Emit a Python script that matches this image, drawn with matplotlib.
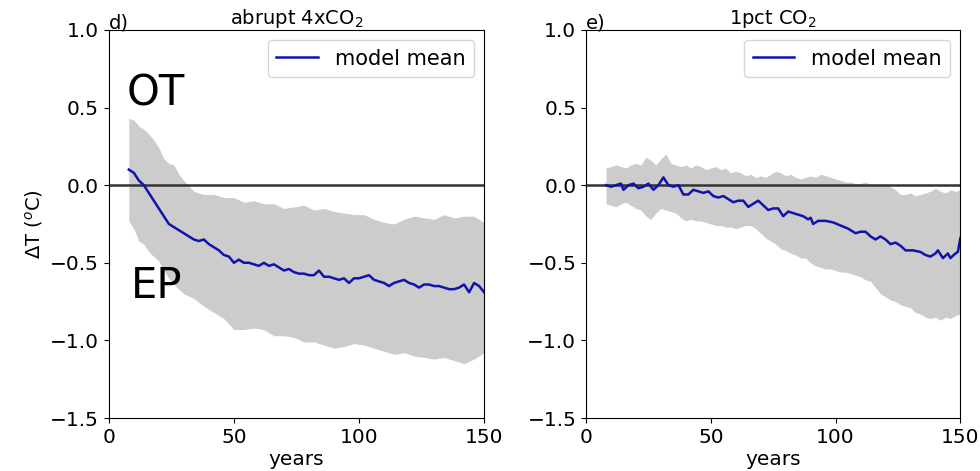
import numpy as np
import matplotlib
matplotlib.use("Agg")
import matplotlib.pyplot as plt

plt.rcParams['font.family'] = ['DejaVu Sans']
plt.rcParams['font.size'] = 14.5

# ---- panel d) abrupt 4xCO2 ----
yrs_d_mean = [8, 10, 12, 14, 16, 18, 20, 22, 24, 26, 28, 30, 32, 34, 36, 38, 40, 42, 44, 46,
              48, 50, 52, 54, 56, 58, 60, 62, 64, 66, 68, 70, 72, 74, 76, 78, 80, 82, 84, 86,
              88, 90, 92, 94, 96, 98, 100, 102, 104, 106, 108, 110, 112, 114, 116, 118, 120,
              122, 124, 126, 128, 130, 132, 134, 136, 138, 140, 142, 144, 146, 148, 150]
mean_d = [0.10, 0.08, 0.03, 0.00, -0.05, -0.10, -0.15, -0.20, -0.25, -0.27, -0.29, -0.31,
          -0.33, -0.35, -0.36, -0.35, -0.38, -0.40, -0.42, -0.45, -0.46, -0.50, -0.48, -0.50,
          -0.50, -0.51, -0.52, -0.50, -0.52, -0.51, -0.53, -0.55, -0.54, -0.56, -0.57, -0.57,
          -0.58, -0.58, -0.55, -0.59, -0.59, -0.60, -0.61, -0.60, -0.63, -0.60, -0.60, -0.59,
          -0.58, -0.61, -0.62, -0.63, -0.65, -0.63, -0.62, -0.61, -0.63, -0.64, -0.66, -0.64,
          -0.64, -0.65, -0.65, -0.66, -0.67, -0.67, -0.66, -0.64, -0.69, -0.63, -0.65, -0.69]

yrs_d_env = [8, 10, 12, 14, 16, 18, 20, 22, 24, 26, 28, 30, 34, 38, 42, 46, 50, 54, 58, 62,
             66, 70, 74, 78, 82, 86, 90, 94, 98, 102, 106, 110, 114, 118, 122, 126, 130, 134,
             138, 142, 146, 150]
upper_d = [0.43, 0.42, 0.38, 0.36, 0.33, 0.29, 0.24, 0.17, 0.14, 0.13, 0.07, 0.03, -0.04,
           -0.06, -0.06, -0.08, -0.08, -0.11, -0.10, -0.12, -0.12, -0.15, -0.14, -0.13, -0.16,
           -0.15, -0.17, -0.18, -0.19, -0.19, -0.22, -0.24, -0.25, -0.22, -0.20, -0.21, -0.22,
           -0.19, -0.21, -0.20, -0.20, -0.24]
lower_d = [-0.23, -0.28, -0.36, -0.38, -0.43, -0.46, -0.49, -0.55, -0.60, -0.64, -0.67, -0.70,
           -0.73, -0.78, -0.82, -0.86, -0.93, -0.93, -0.92, -0.93, -0.97, -0.97, -0.98, -1.01,
           -1.01, -1.03, -1.05, -1.04, -1.02, -1.03, -1.05, -1.07, -1.09, -1.08, -1.10, -1.11,
           -1.12, -1.11, -1.13, -1.15, -1.12, -1.08]

# ---- panel e) 1pct CO2 ----
yrs_e_mean = [8, 10, 12, 14, 15, 17, 19, 21, 23, 25, 27, 29, 31, 33, 35, 37, 39, 41, 43, 45,
              47, 49, 51, 53, 55, 57, 59, 61, 63, 65, 67, 69, 71, 73, 75, 77, 79, 81, 83, 85,
              87, 89, 90, 91, 93, 96, 99, 102, 105, 108, 110, 112, 114, 116, 118, 120, 122,
              124, 126, 128, 131, 134, 136, 138, 140, 141, 143, 145, 146, 148, 149, 150]
mean_e = [0.00, -0.01, 0.00, 0.01, -0.03, 0.00, 0.01, -0.02, -0.01, 0.01, -0.03, 0.00, 0.05,
          0.00, -0.01, 0.00, -0.06, -0.06, -0.03, -0.04, -0.05, -0.04, -0.07, -0.08, -0.07,
          -0.09, -0.11, -0.10, -0.10, -0.14, -0.12, -0.10, -0.13, -0.16, -0.15, -0.15, -0.20,
          -0.17, -0.18, -0.19, -0.20, -0.22, -0.21, -0.25, -0.23, -0.23, -0.24, -0.26, -0.28,
          -0.31, -0.30, -0.30, -0.33, -0.35, -0.33, -0.35, -0.38, -0.37, -0.39, -0.42, -0.42,
          -0.43, -0.45, -0.46, -0.44, -0.42, -0.47, -0.44, -0.47, -0.44, -0.43, -0.34]

yrs_e_env = [8, 10, 12, 14, 16, 18, 20, 22, 24, 26, 28, 30, 32, 34, 36, 38, 40, 42, 44, 46,
             48, 50, 52, 54, 56, 58, 60, 62, 64, 66, 68, 70, 72, 74, 76, 78, 80, 82, 84, 86,
             88, 90, 92, 94, 96, 98, 100, 102, 104, 106, 108, 110, 112, 114, 116, 118, 120,
             122, 124, 126, 128, 130, 132, 134, 136, 138, 140, 142, 144, 146, 148, 150]
upper_e = [0.11, 0.12, 0.13, 0.12, 0.11, 0.13, 0.14, 0.13, 0.18, 0.16, 0.13, 0.17, 0.20,
           0.14, 0.13, 0.12, 0.13, 0.11, 0.13, 0.12, 0.10, 0.11, 0.12, 0.10, 0.11, 0.08,
           0.09, 0.08, 0.06, 0.07, 0.05, 0.06, 0.05, 0.07, 0.09, 0.08, 0.06, 0.07, 0.05,
           0.04, 0.05, 0.06, 0.05, 0.07, 0.06, 0.05, 0.04, 0.03, 0.02, 0.02, 0.01, 0.01,
           0.02, 0.00, 0.01, 0.00, 0.01, -0.01, -0.03, -0.06, -0.06, -0.05, -0.07, -0.06,
           -0.05, -0.04, -0.02, -0.04, -0.05, -0.03, -0.04, -0.03]
lower_e = [-0.12, -0.13, -0.14, -0.12, -0.11, -0.13, -0.15, -0.16, -0.20, -0.22, -0.18,
           -0.15, -0.16, -0.17, -0.18, -0.21, -0.23, -0.22, -0.23, -0.23, -0.24, -0.25,
           -0.26, -0.26, -0.27, -0.27, -0.28, -0.27, -0.26, -0.26, -0.28, -0.31, -0.34,
           -0.36, -0.38, -0.41, -0.42, -0.44, -0.45, -0.47, -0.47, -0.50, -0.52, -0.53,
           -0.54, -0.54, -0.55, -0.56, -0.56, -0.57, -0.58, -0.59, -0.61, -0.62, -0.66,
           -0.70, -0.72, -0.74, -0.75, -0.77, -0.78, -0.79, -0.82, -0.83, -0.85, -0.86,
           -0.85, -0.87, -0.85, -0.86, -0.84, -0.83]

panels = [
    ('d)', 'abrupt 4xCO$_2$', yrs_d_mean, mean_d, yrs_d_env, upper_d, lower_d),
    ('e)', '1pct CO$_2$', yrs_e_mean, mean_e, yrs_e_env, upper_e, lower_e),
]

fig = plt.figure(figsize=(9.8, 4.71), dpi=100)
ax1 = fig.add_axes([0.111, 0.1125, 0.383, 0.824])
ax2 = fig.add_axes([0.598, 0.1125, 0.382, 0.824])

for ax, (tag, title, ym, m, ye, up, lo) in zip([ax1, ax2], panels):
    ax.fill_between(ye, lo, up, color='#cccccc', lw=0)
    ax.axhline(0, color='#333333', lw=1.8)
    ax.plot(ym, m, color='#1212b0', lw=1.8, label='model mean')
    ax.set_xlim(0, 150)
    ax.set_ylim(-1.5, 1.0)
    ax.set_xticks([0, 50, 100, 150])
    ax.set_yticks([-1.5, -1.0, -0.5, 0.0, 0.5, 1.0])
    ax.set_xlabel('years', labelpad=2)
    ax.set_title(title, fontsize=14, pad=3)
    ax.text(0.0, 0.993, tag, transform=ax.transAxes, ha='left', va='bottom', fontsize=14)
    ax.legend(loc='upper right', fontsize=15)

ax1.set_ylabel('ΔT ($^o$C)', fontsize=14)
ax1.text(7, 0.51, 'OT', fontsize=30, ha='left', va='baseline')
ax1.text(9, -0.73, 'EP', fontsize=30, ha='left', va='baseline')

fig.savefig('out.png', dpi=100)
